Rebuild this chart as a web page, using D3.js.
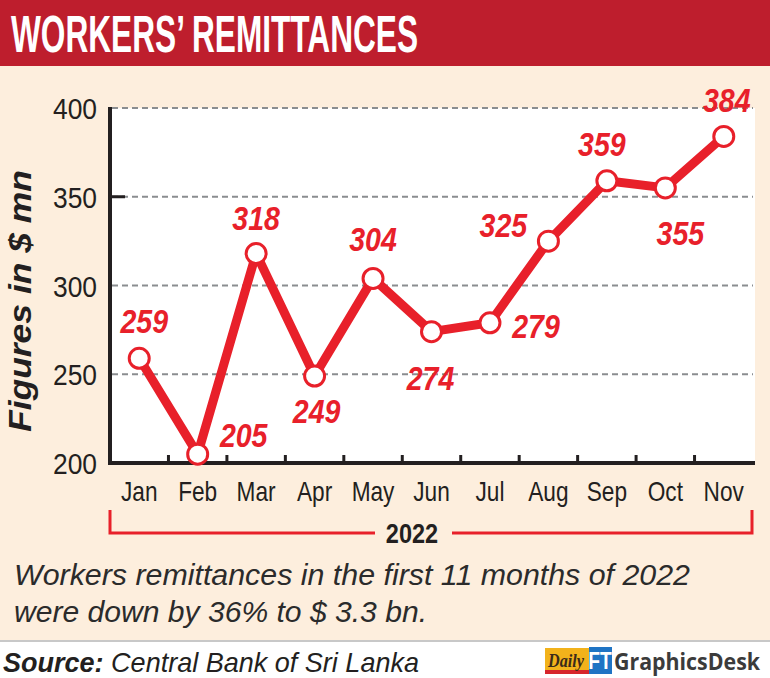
<!DOCTYPE html>
<html>
<head>
<meta charset="utf-8">
<script src="https://cdn.jsdelivr.net/npm/d3@7"></script>
<style>
  body { margin: 0; background: #fff; }
  svg { display: block; }
</style>
</head>
<body>
<svg id="chart"></svg>
<script>
// chart data
const months = ["Jan", "Feb", "Mar", "Apr", "May", "Jun", "Jul", "Aug", "Sep", "Oct", "Nov"];
const remittances = [259, 205, 318, 249, 304, 274, 279, 325, 359, 355, 384];
const yTicks = [200, 250, 300, 350, 400];
const gridTicks = [250, 300, 350, 400];
const yearLabel = "2022";

// where each value label sits relative to its point [dx, dy of baseline]
const labelOffsets = [[5, -25], [46, -7], [0, -24], [2, 47], [0, -27], [-1, 58],
                      [46, 15], [-45, -4], [-5, -25], [15, 57], [3, -24]];

const width = 770, height = 678;
const red = "#e8202a";
const sans = "'Liberation Sans', Arial, sans-serif";
const squeeze = 0.84; // no narrow font installed, so squash the glyphs

const svg = d3.select("#chart")
    .attr("width", width)
    .attr("height", height);

// backgrounds
svg.append("rect").attr("width", width).attr("height", 641).attr("fill", "#fdeedd");
svg.append("rect").attr("y", 641).attr("width", width).attr("height", height - 641).attr("fill", "#fff");
svg.append("line").attr("x1", 0).attr("x2", width).attr("y1", 641).attr("y2", 641)
    .attr("stroke", "#c8c8c8").attr("stroke-width", 2);

// title bar
svg.append("rect").attr("width", width).attr("height", 66).attr("fill", "#be1e2d");
svg.append("text")
    .attr("x", 11).attr("y", 52)
    .attr("fill", "#fff")
    .style("font-family", sans).style("font-weight", "bold").style("font-size", "51px")
    .attr("textLength", 407).attr("lengthAdjust", "spacingAndGlyphs")
    .text("WORKERS\u2019 REMITTANCES");

// scales
const x = d3.scalePoint().domain(months).range([110, 753]).padding(0.5);
const y = d3.scaleLinear().domain([200, 400]).range([463, 108]);

// plot area
svg.append("rect")
    .attr("x", 110).attr("y", y(400))
    .attr("width", 645).attr("height", y(200) - y(400))
    .attr("fill", "#fff");

// dashed gridlines
svg.append("g").selectAll("line")
    .data(gridTicks)
    .enter().append("line")
    .attr("x1", 112).attr("x2", 753)
    .attr("y1", d => y(d)).attr("y2", d => y(d))
    .attr("stroke", "#8a8d90").attr("stroke-width", 2)
    .attr("stroke-dasharray", "6,4");

// y tick labels
svg.append("g").selectAll("text")
    .data(yTicks)
    .enter().append("text")
    .attr("transform", d => `translate(97,${y(d) + 11}) scale(0.88,1)`)
    .attr("text-anchor", "end")
    .attr("fill", "#231f20")
    .style("font-family", sans).style("font-size", "30px")
    .text(d => d);

// small inner tick at 350
svg.append("line")
    .attr("x1", 110).attr("x2", 125).attr("y1", y(350)).attr("y2", y(350))
    .attr("stroke", "#231f20").attr("stroke-width", 3);

// x ticks between months
const step = x.step();
svg.append("g").selectAll("line")
    .data(months.slice(1))
    .enter().append("line")
    .attr("x1", d => x(d) - step / 2).attr("x2", d => x(d) - step / 2)
    .attr("y1", y(200)).attr("y2", y(200) - 8)
    .attr("stroke", "#231f20").attr("stroke-width", 3);

// axes lines
svg.append("path")
    .attr("d", `M110,${y(400) - 1}V${y(200)}H755`)
    .attr("fill", "none")
    .attr("stroke", "#231f20").attr("stroke-width", 4);

// month labels
svg.append("g").selectAll("text")
    .data(months)
    .enter().append("text")
    .attr("transform", d => `translate(${x(d)},501) scale(${squeeze},1)`)
    .attr("text-anchor", "middle")
    .attr("fill", "#231f20")
    .style("font-family", sans).style("font-size", "27px")
    .text(d => d);

// y-axis title
svg.append("text")
    .attr("transform", "translate(31,301) rotate(-90)")
    .attr("text-anchor", "middle")
    .attr("fill", "#231f20")
    .style("font-family", sans).style("font-weight", "bold").style("font-style", "italic")
    .style("font-size", "31px")
    .attr("textLength", 262).attr("lengthAdjust", "spacingAndGlyphs")
    .text("Figures in $ mn");

// the line
const line = d3.line()
    .x((d, i) => x(months[i]))
    .y(d => y(d));

svg.append("path")
    .datum(remittances)
    .attr("d", line)
    .attr("fill", "none")
    .attr("stroke", red)
    .attr("stroke-width", 9)
    .attr("stroke-linejoin", "round");

svg.append("g").selectAll("circle")
    .data(remittances)
    .enter().append("circle")
    .attr("cx", (d, i) => x(months[i]))
    .attr("cy", d => y(d))
    .attr("r", 10)
    .attr("fill", "#fff")
    .attr("stroke", red)
    .attr("stroke-width", 3);

// value labels
svg.append("g").selectAll("text")
    .data(remittances)
    .enter().append("text")
    .attr("transform", (d, i) =>
        `translate(${x(months[i]) + labelOffsets[i][0]},${y(d) + labelOffsets[i][1]}) scale(${squeeze},1)`)
    .attr("text-anchor", "middle")
    .attr("fill", red)
    .style("font-family", sans).style("font-weight", "bold").style("font-style", "italic")
    .style("font-size", "34px")
    .text(d => d);

// year bracket
svg.append("path")
    .attr("d", "M110,510V533H375M452,533H752V510")
    .attr("fill", "none")
    .attr("stroke", red).attr("stroke-width", 3);
svg.append("text")
    .attr("transform", `translate(412,543) scale(${squeeze},1)`)
    .attr("text-anchor", "middle")
    .attr("fill", "#231f20")
    .style("font-family", sans).style("font-weight", "bold").style("font-size", "28px")
    .text(yearLabel);

// caption
const caption = svg.append("g")
    .attr("fill", "#2b2b2b")
    .style("font-family", sans).style("font-style", "italic").style("font-size", "29px");
caption.append("text").attr("x", 14).attr("y", 585)
    .attr("textLength", 676).attr("lengthAdjust", "spacingAndGlyphs")
    .text("Workers remittances in the first 11 months of 2022");
caption.append("text").attr("x", 14).attr("y", 622)
    .attr("textLength", 413).attr("lengthAdjust", "spacingAndGlyphs")
    .text("were down by 36% to $ 3.3 bn.");

// source
const src = svg.append("text")
    .attr("x", 3).attr("y", 672)
    .attr("fill", "#231f20")
    .attr("textLength", 416).attr("lengthAdjust", "spacingAndGlyphs")
    .style("font-family", sans).style("font-style", "italic").style("font-size", "28px");
src.append("tspan").style("font-weight", "bold").text("Source:");
src.append("tspan").text(" Central Bank of Sri Lanka");

// logo
const logo = svg.append("g");
logo.append("rect").attr("x", 545).attr("y", 648).attr("width", 44).attr("height", 26).attr("fill", "#f2b21b");
logo.append("rect").attr("x", 545).attr("y", 670).attr("width", 44).attr("height", 4).attr("fill", "#d7262c");
logo.append("text").attr("x", 548).attr("y", 667)
    .attr("fill", "#3a2a1a")
    .attr("textLength", 36).attr("lengthAdjust", "spacingAndGlyphs")
    .style("font-family", "'Liberation Serif', serif").style("font-style", "italic").style("font-weight", "bold")
    .style("font-size", "18px")
    .text("Daily");
logo.append("rect").attr("x", 589).attr("y", 647).attr("width", 23).attr("height", 27).attr("fill", "#1f74c4");
logo.append("text").attr("transform", "translate(600,669) scale(0.8,1)")
    .attr("text-anchor", "middle")
    .attr("fill", "#fff")
    .style("font-family", sans).style("font-weight", "bold").style("font-size", "24px")
    .text("FT");
logo.append("text").attr("x", 614).attr("y", 670)
    .attr("fill", "#3b3b3b")
    .style("font-family", "'Open Sans', sans-serif").style("font-weight", "bold").style("font-size", "23px")
    .attr("textLength", 146).attr("lengthAdjust", "spacingAndGlyphs")
    .text("GraphicsDesk");
</script>
</body>
</html>
